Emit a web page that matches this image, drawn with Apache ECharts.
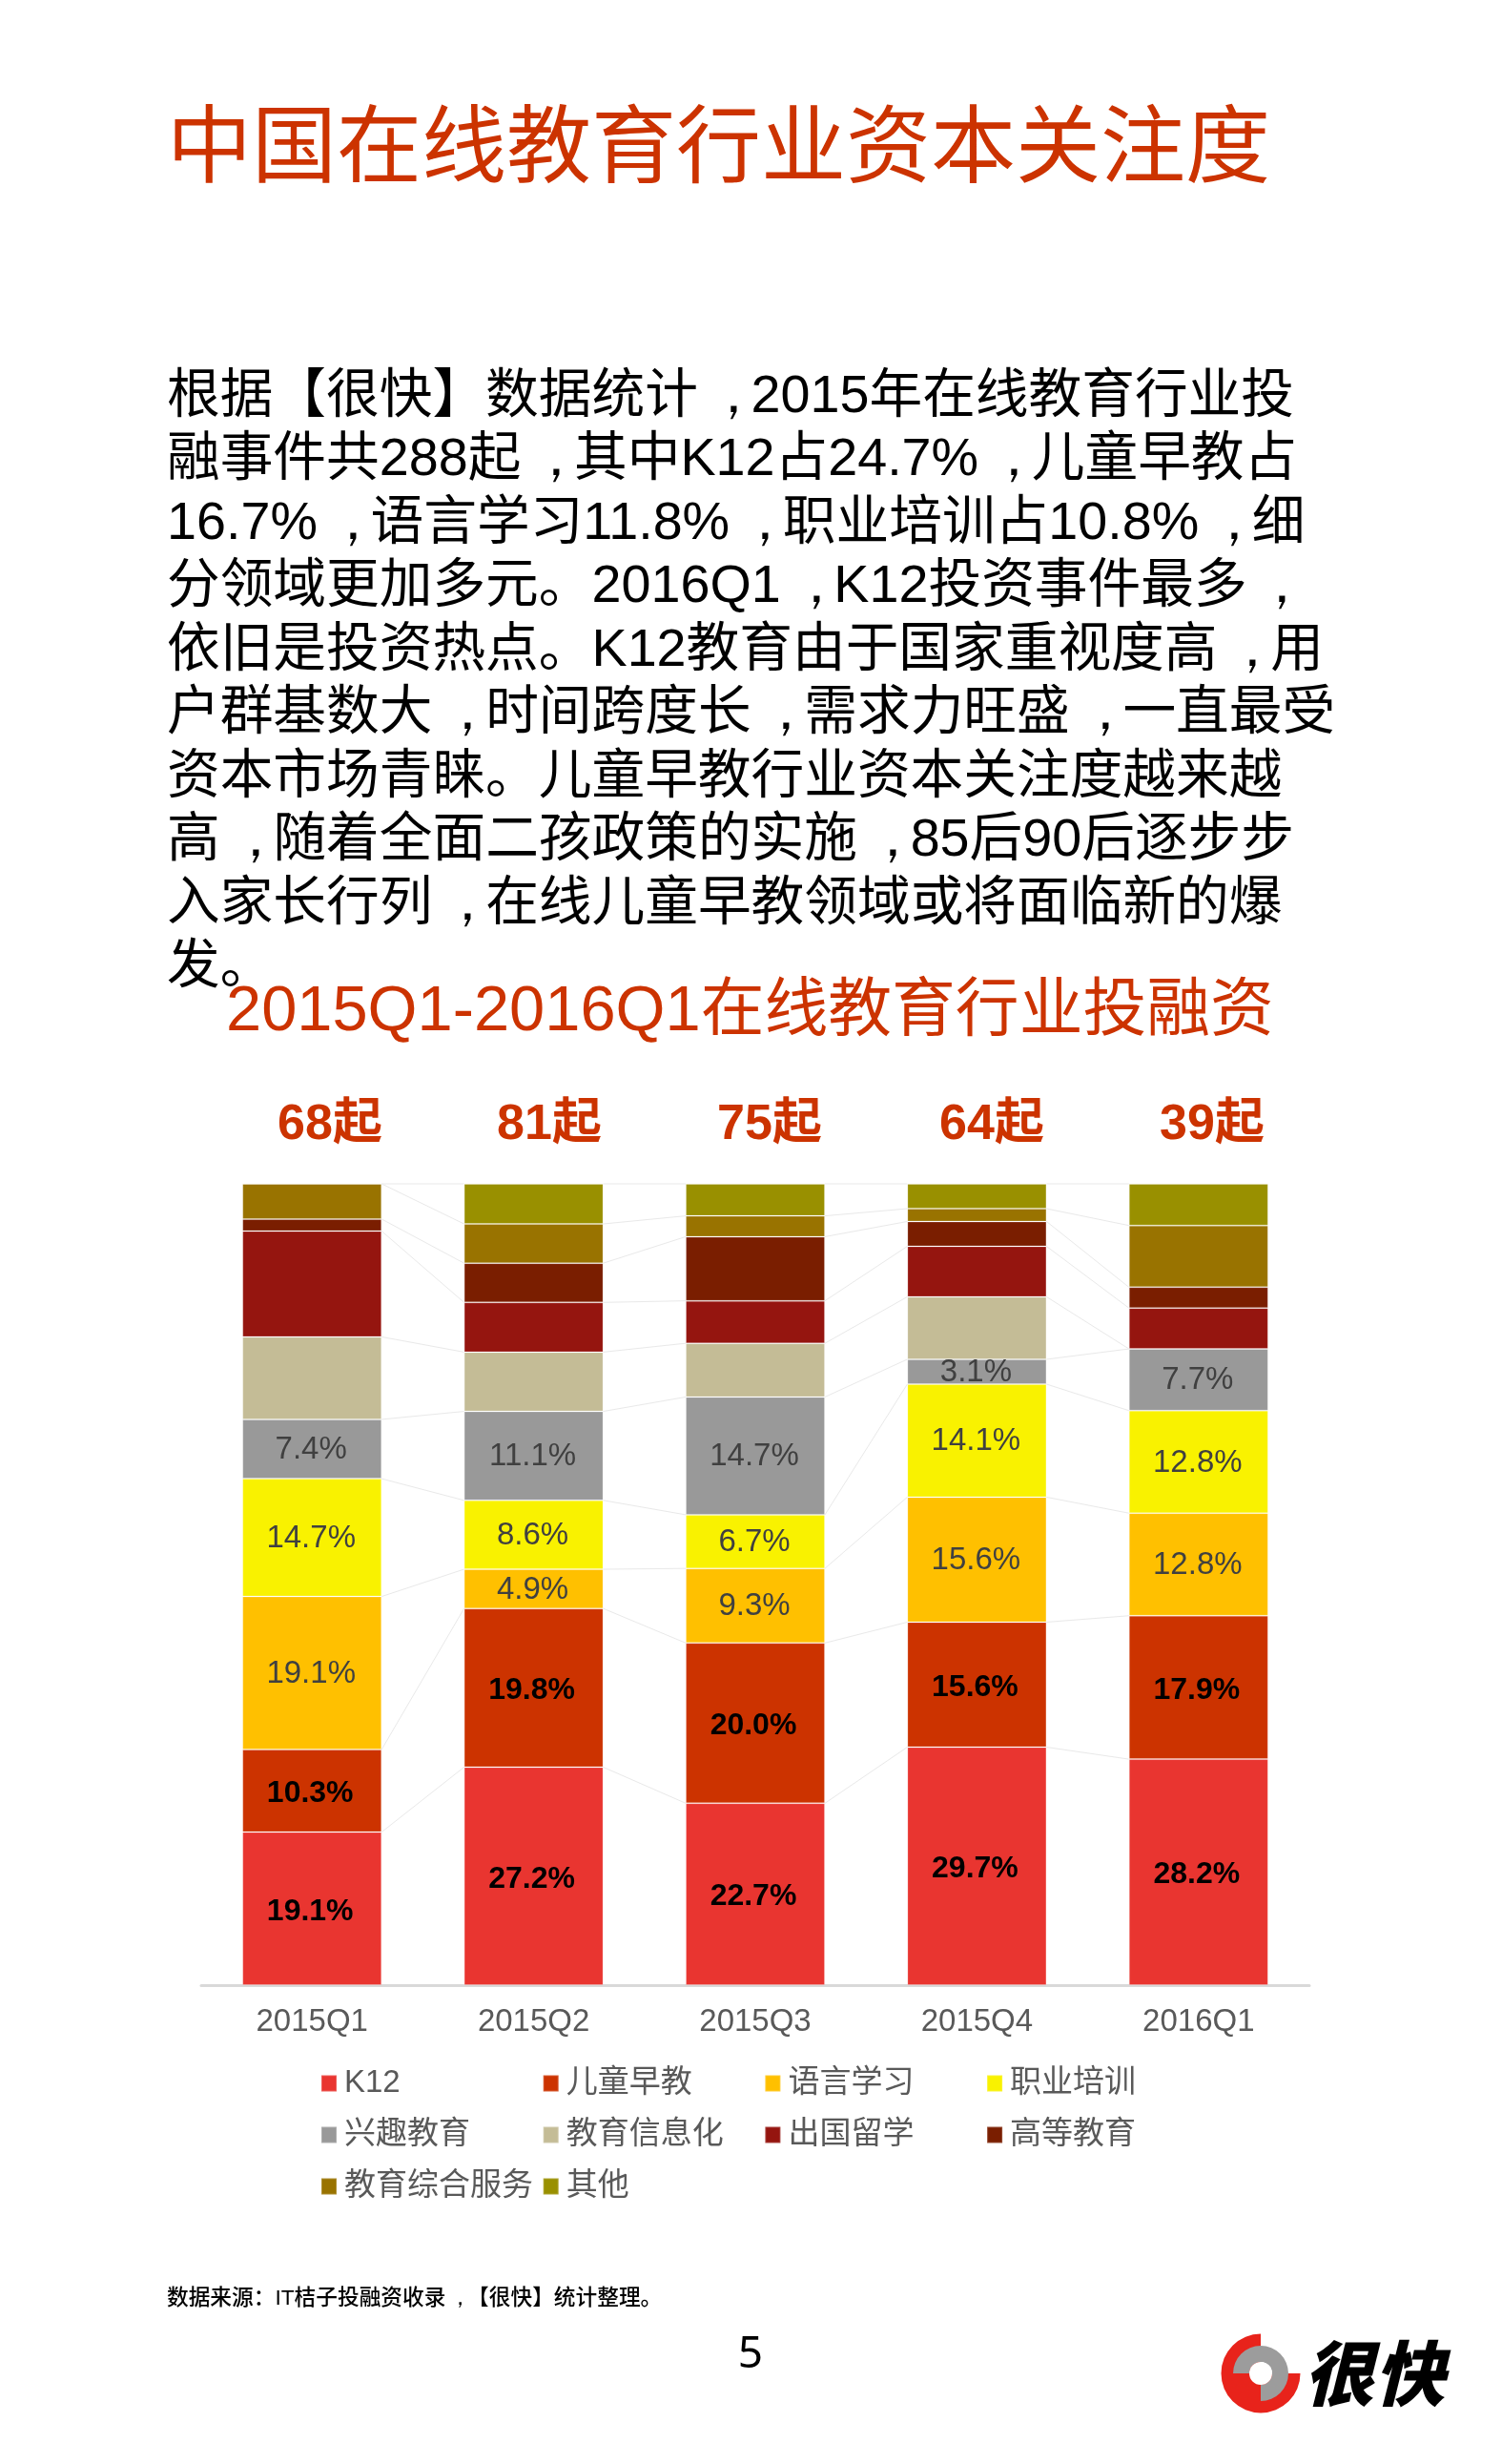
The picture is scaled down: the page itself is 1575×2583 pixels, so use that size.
<!DOCTYPE html>
<html>
<head>
<meta charset="utf-8">
<title>中国在线教育行业资本关注度</title>
<script src="https://cdn.jsdelivr.net/npm/echarts@6/dist/echarts.min.js"></script>
<style>
  html, body { margin: 0; padding: 0; background: #fff; }
  #main { width: 1575px; height: 2583px; }
</style>
</head>
<body>
<div id="main"></div>
<script>
'use strict';

var quarters = ['2015Q1', '2015Q2', '2015Q3', '2015Q4', '2016Q1'];
var dealCounts = ['68起', '81起', '75起', '64起', '39起'];

// percent of deals per quarter, bottom of the stack first
var k12 = [19.1, 27.2, 22.7, 29.7, 28.2];
var earlyEdu = [10.3, 19.8, 20.0, 15.6, 17.9];
var language = [19.1, 4.9, 9.3, 15.6, 12.8];
var vocational = [14.7, 8.6, 6.7, 14.1, 12.8];
var hobby = [7.4, 11.1, 14.7, 3.1, 7.7];
var eduIT = [10.3, 7.4, 6.7, 7.8, 0];
var studyAbroad = [13.2, 6.2, 5.3, 6.3, 5.1];
var higherEdu = [1.5, 4.9, 8.0, 3.1, 2.6];
var integrated = [4.4, 4.9, 2.6, 1.6, 7.7];
var other = [0, 5.0, 4.0, 3.1, 5.2];

var seriesNames = ['K12', '儿童早教', '语言学习', '职业培训', '兴趣教育', '教育信息化', '出国留学', '高等教育', '教育综合服务', '其他'];
var seriesValues = [k12, earlyEdu, language, vocational, hobby, eduIT, studyAbroad, higherEdu, integrated, other];
var seriesColors = ['#E93530', '#CC3300', '#FFC000', '#F9F200', '#999999', '#C4BC96', '#95150F', '#7A1E00', '#997300', '#999000'];

var legendColumns = [
  ['K12', '兴趣教育', '教育综合服务'],
  ['儿童早教', '教育信息化', '其他'],
  ['语言学习', '出国留学'],
  ['职业培训', '高等教育']
];

var pageTitle = '中国在线教育行业资本关注度';
var chartTitle = '2015Q1-2016Q1在线教育行业投融资';
var paragraph = [
  '根据【很快】数据统计，2015年在线教育行业投',
  '融事件共288起，其中K12占24.7%，儿童早教占',
  '16.7%，语言学习11.8%，职业培训占10.8%，细',
  '分领域更加多元。2016Q1，K12投资事件最多，',
  '依旧是投资热点。K12教育由于国家重视度高，用',
  '户群基数大，时间跨度长，需求力旺盛，一直最受',
  '资本市场青睐。儿童早教行业资本关注度越来越',
  '高，随着全面二孩政策的实施，85后90后逐步步',
  '入家长行列，在线儿童早教领域或将面临新的爆',
  '发。'
];
var sourceNote = '数据来源：IT桔子投融资收录，【很快】统计整理。';

var FONT = '"Liberation Sans", "Noto Sans CJK SC", sans-serif';
var BAR_WIDTH = 146;
var RED = '#CC3300';

// running totals, so the connectors can be drawn between neighbouring bars
function buildConnectors() {
  var rows = [];
  var totals = quarters.map(function() { return 0; });
  seriesValues.forEach(function(values) {
    values.forEach(function(v, i) { totals[i] += v; });
    for (var i = 0; i < quarters.length - 1; i++) {
      rows.push([i, totals[i], totals[i + 1]]);
    }
  });
  return rows;
}

function renderConnector(params, api) {
  var half = BAR_WIDTH / 2;
  var a = api.coord([api.value(0), api.value(1)]);
  var b = api.coord([api.value(0) + 1, api.value(2)]);
  return {
    type: 'line',
    shape: { x1: a[0] + half, y1: a[1], x2: b[0] - half, y2: b[1] },
    style: { stroke: '#e9e9e9', lineWidth: 1 }
  };
}

// the page sets its full-width commas centred in the cell
function commaText(line) {
  return line.replace(/，/g, '{c|，}');
}
function commaRich(size) {
  return { c: { fontSize: size, width: size * 0.84, padding: [0, 0, 0, size * 0.16] } };
}

var barSeries = seriesNames.map(function(name, idx) {
  var labelled = idx < 5;
  var strong = idx < 2;
  return {
    name: name,
    type: 'bar',
    stack: 'share',
    barWidth: BAR_WIDTH,
    data: seriesValues[idx],
    animation: false,
    itemStyle: { color: seriesColors[idx], borderColor: 'rgba(255,255,255,0.2)', borderWidth: 1 },
    label: {
      show: labelled,
      position: 'inside',
      offset: strong ? [-2, 3] : [-1, 1],
      fontFamily: FONT,
      fontSize: strong ? 32 : 33,
      fontWeight: strong ? 'bold' : 'normal',
      color: strong ? '#000000' : '#404040',
      formatter: function(p) { return p.value.toFixed(1) + '%'; }
    }
  };
});

var connectorSeries = {
  type: 'custom',
  renderItem: renderConnector,
  encode: { x: 0, y: [1, 2] },
  data: buildConnectors(),
  animation: false,
  silent: true,
  z: 1
};

var legends = legendColumns.map(function(names, i) {
  return {
    orient: 'vertical',
    left: 331 + i * 232.7,
    top: 2161.5,
    itemWidth: 16,
    itemHeight: 17,
    itemGap: 19,
    icon: 'rect',
    selectedMode: false,
    data: names,
    textStyle: { fontFamily: FONT, fontSize: 33, lineHeight: 35, color: '#595959', padding: [0, 0, 0, 3] }
  };
});

var graphics = [];
paragraph.forEach(function(line, i) {
  graphics.push({
    type: 'text', x: 175, y: 416.5 + i * 66.5, silent: true,
    style: {
      text: commaText(line), fontFamily: FONT, fontSize: 55.7, fill: '#000',
      verticalAlign: 'middle', rich: commaRich(55.7)
    }
  });
});
var countCenters = [346, 576, 807, 1040, 1271];
dealCounts.forEach(function(text, i) {
  graphics.push({
    type: 'text', x: countCenters[i], y: 1180, silent: true,
    style: { text: text, font: 'bold 52px ' + FONT, fill: RED, textAlign: 'center', textVerticalAlign: 'middle' }
  });
});
graphics.push({
  type: 'text', x: 175, y: 2410, silent: true,
  style: {
    text: commaText(sourceNote), fontFamily: FONT, fontSize: 22.7, fontWeight: 500, fill: '#000',
    verticalAlign: 'middle', rich: commaRich(22.7)
  }
});
graphics.push({
  type: 'text', x: 787, y: 2469, silent: true,
  style: { text: '5', font: '46px "Noto Sans", sans-serif', fill: '#000', textAlign: 'center', textVerticalAlign: 'middle' }
});
// logo
graphics.push({
  type: 'sector', silent: true,
  shape: { cx: 1322, cy: 2488, r: 41.5, r0: 0, startAngle: 0, endAngle: Math.PI * 1.5 },
  style: { fill: '#E8231B' }
});
graphics.push({
  type: 'sector', silent: true,
  shape: { cx: 1322, cy: 2488, r: 29, r0: 12, startAngle: Math.PI, endAngle: Math.PI * 2.5 },
  style: { fill: '#9C9C9C' }
});
graphics.push({
  type: 'circle', silent: true,
  shape: { cx: 1322, cy: 2488, r: 12 },
  style: { fill: '#fff' }
});
graphics.push({
  type: 'text', x: 1367, y: 2488, silent: true,
  style: { text: '很快', font: 'italic 900 74px "Noto Sans CJK SC", sans-serif', fill: '#000', textVerticalAlign: 'middle' }
});

var chart = echarts.init(document.getElementById('main'), null, { renderer: 'canvas' });
chart.setOption({
  backgroundColor: '#fff',
  animation: false,
  title: [
    { text: pageTitle, left: 170, top: 110, textStyle: { fontFamily: FONT, fontSize: 89, fontWeight: 'normal', color: RED } },
    { text: chartTitle, left: 232, top: 1023, textStyle: { fontFamily: FONT, fontSize: 66.8, fontWeight: 'normal', color: RED } }
  ],
  legend: legends,
  grid: { left: 211, right: 202, top: 1241, height: 840, containLabel: false },
  xAxis: {
    type: 'category',
    data: quarters,
    axisTick: { show: false },
    axisLine: { lineStyle: { color: '#D9D9D9', width: 3 } },
    axisLabel: { fontFamily: FONT, fontSize: 33, color: '#595959', margin: 22 }
  },
  yAxis: {
    type: 'value',
    min: 0,
    max: 100,
    show: false
  },
  series: barSeries.concat([connectorSeries]),
  graphic: graphics
});
</script>
</body>
</html>
